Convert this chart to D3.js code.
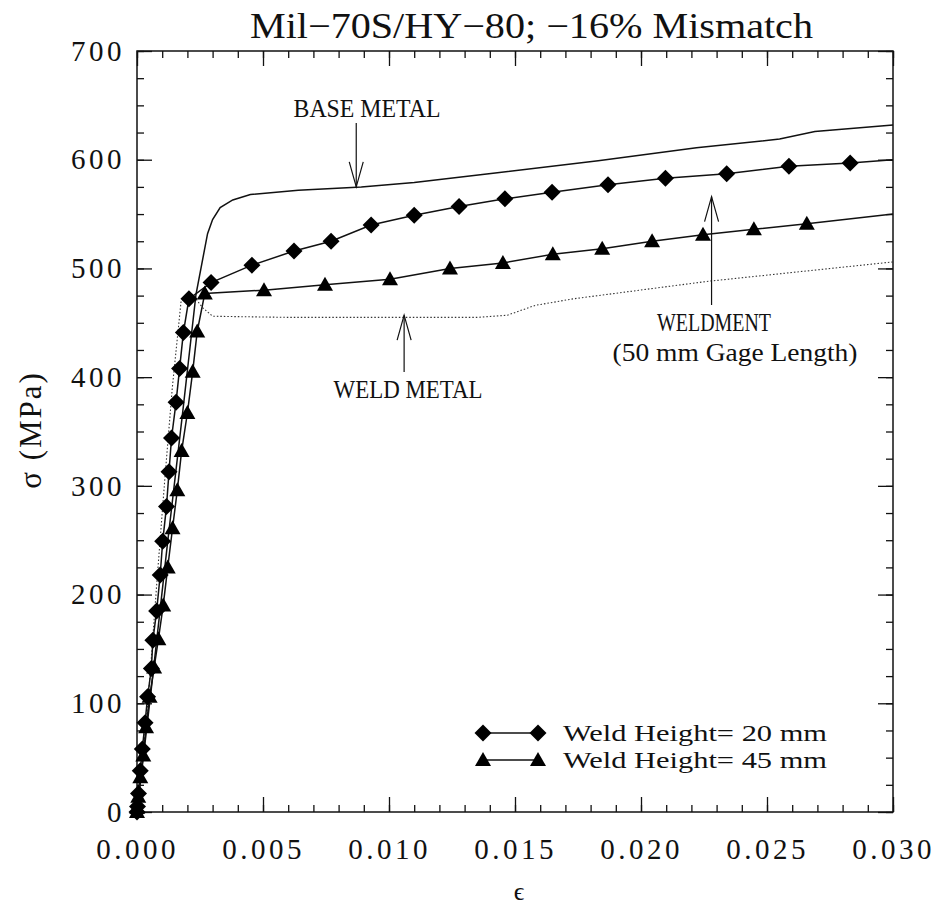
<!DOCTYPE html>
<html>
<head>
<meta charset="utf-8">
<script src="https://cdn.jsdelivr.net/npm/d3@7"></script>
<style>
  body { margin: 0; background: #fff; }
  svg text { font-family: "Liberation Serif", "DejaVu Serif", serif; fill: #111; }
</style>
</head>
<body>
<div id="chart"></div>
<script>
// strain / stress data (MPa)
var baseEps    = [0, 0.0006, 0.0012, 0.0018, 0.00234, 0.0028, 0.0030, 0.0033, 0.0038, 0.0045, 0.0064, 0.0089, 0.011, 0.0143, 0.0183, 0.0222, 0.0255, 0.0269, 0.030];
var baseStress = [0, 120, 245, 365, 476, 532, 545, 556, 563, 568, 572, 575, 579, 588, 599, 611, 619, 626, 632];

var weldEps    = [0, 0.0002, 0.0005, 0.0008, 0.0011, 0.0014, 0.00175, 0.0022, 0.0026, 0.003, 0.006, 0.010, 0.0135, 0.0147, 0.0158, 0.0173, 0.0226, 0.030];
var weldStress = [0, 40, 120, 215, 305, 390, 470, 476, 464, 456, 455, 455, 455, 457, 466, 472, 488, 506];

// weld height = 20 mm (diamonds), last point is the line end only
var h20Eps    = [0, 0.00002, 0.00006, 0.00013, 0.00021, 0.00032, 0.00042, 0.00057, 0.00063, 0.00078, 0.00092, 0.00102, 0.00117, 0.00127, 0.00137, 0.00155, 0.00169, 0.00184, 0.00206,
                 0.00294, 0.00456, 0.00623, 0.0077, 0.00929, 0.011, 0.01278, 0.0146, 0.01647, 0.01869, 0.02097, 0.0234, 0.02587, 0.0283, 0.030];
var h20Stress = [0, 5, 17, 38, 58, 82, 106, 132, 158, 185, 218, 249, 281, 313, 344, 377, 408, 441, 472,
                 487, 503, 516, 525, 540, 549, 557, 564, 570, 577, 583, 587, 594, 597, 600];

// weld height = 45 mm (triangles)
var h45Eps    = [0, 0.00001, 0.00005, 0.00013, 0.00025, 0.00036, 0.0005, 0.00068, 0.00085, 0.00104, 0.00122, 0.00141, 0.0016, 0.00177, 0.002, 0.00221, 0.00239, 0.00269,
                 0.00504, 0.00746, 0.01004, 0.01242, 0.01452, 0.0165, 0.01846, 0.02044, 0.02246, 0.02448, 0.02658, 0.030];
var h45Stress = [0, 4, 14, 32, 52, 78, 106, 133, 159, 190, 225, 261, 296, 332, 367, 405, 442, 477,
                 480, 485, 490, 500, 505, 513, 518, 525, 531, 536, 541, 550];

var epsTicks = [0, 0.005, 0.010, 0.015, 0.020, 0.025, 0.030];
var stressTicks = [0, 100, 200, 300, 400, 500, 600, 700];
var legendLabels = ["Weld Height= 20 mm", "Weld Height= 45 mm"];

var width = 934, height = 909;
var plotL = 137, plotR = 893, plotT = 51, plotB = 812;

var svg = d3.select("#chart").append("svg")
    .attr("width", width)
    .attr("height", height);

var x = d3.scaleLinear().domain([0, 0.030]).range([plotL, plotR]);
var y = d3.scaleLinear().domain([0, 700]).range([plotB, plotT]);

function pts(a, b) { return a.map(function(d, i){ return [d, b[i]]; }); }

var line = d3.line()
    .x(function(d){ return x(d[0]); })
    .y(function(d){ return y(d[1]); });

// frame
svg.append("rect")
    .attr("x", plotL).attr("y", plotT)
    .attr("width", plotR - plotL).attr("height", plotB - plotT)
    .attr("fill", "none").attr("stroke", "#111").attr("stroke-width", 1.5);

var minorX = d3.range(0, 0.0305, 0.001);
var minorY = d3.range(0, 701, 25);

function styleAxis(g) {
    g.select(".domain").remove();
    g.selectAll(".tick line").attr("stroke", "#111").attr("stroke-width", 1.3);
    g.selectAll(".tick text").style("font-size", "29px").style("letter-spacing", "3.5px").attr("fill", "#111");
}

// minor ticks, all four sides
svg.append("g").attr("transform", "translate(0," + plotB + ")")
    .call(d3.axisBottom(x).tickValues(minorX).tickSize(-7).tickFormat("")).call(styleAxis);
svg.append("g").attr("transform", "translate(0," + plotT + ")")
    .call(d3.axisTop(x).tickValues(minorX).tickSize(-7).tickFormat("")).call(styleAxis);
svg.append("g").attr("transform", "translate(" + plotL + ",0)")
    .call(d3.axisLeft(y).tickValues(minorY).tickSize(-7).tickFormat("")).call(styleAxis);
svg.append("g").attr("transform", "translate(" + plotR + ",0)")
    .call(d3.axisRight(y).tickValues(minorY).tickSize(-7).tickFormat("")).call(styleAxis);

// major ticks + labels
svg.append("g").attr("transform", "translate(0," + plotB + ")")
    .call(d3.axisBottom(x).tickValues(epsTicks).tickSize(-15).tickPadding(26).tickFormat(d3.format(".3f")))
    .call(styleAxis);
svg.append("g").attr("transform", "translate(0," + plotT + ")")
    .call(d3.axisTop(x).tickValues(epsTicks).tickSize(-15).tickFormat("")).call(styleAxis);
svg.append("g").attr("transform", "translate(" + plotL + ",0)")
    .call(d3.axisLeft(y).tickValues(stressTicks).tickSize(-15).tickPadding(12).tickFormat(d3.format("d")))
    .call(styleAxis);
svg.append("g").attr("transform", "translate(" + plotR + ",0)")
    .call(d3.axisRight(y).tickValues(stressTicks).tickSize(-15).tickFormat("")).call(styleAxis);

// curves
svg.append("path").datum(pts(weldEps, weldStress))
    .attr("d", line).attr("fill", "none").attr("stroke", "#333")
    .attr("stroke-width", 1.1).attr("stroke-dasharray", "1.5,2");
svg.append("path").datum(pts(baseEps, baseStress))
    .attr("d", line).attr("fill", "none").attr("stroke", "#111").attr("stroke-width", 1.5);
svg.append("path").datum(pts(h45Eps, h45Stress))
    .attr("d", line).attr("fill", "none").attr("stroke", "#111").attr("stroke-width", 1.5);
svg.append("path").datum(pts(h20Eps, h20Stress))
    .attr("d", line).attr("fill", "none").attr("stroke", "#111").attr("stroke-width", 1.5);

var diamond = "M0,-8.5L8.5,0L0,8.5L-8.5,0Z";
var triangle = "M0,-8L8,6L-8,6Z";

svg.append("g").selectAll("path")
    .data(pts(h45Eps, h45Stress).slice(0, -1))
    .enter().append("path")
    .attr("d", triangle)
    .attr("transform", function(d){ return "translate(" + x(d[0]) + "," + y(d[1]) + ")"; })
    .attr("fill", "#000");

svg.append("g").selectAll("path")
    .data(pts(h20Eps, h20Stress).slice(0, -1))
    .enter().append("path")
    .attr("d", diamond)
    .attr("transform", function(d){ return "translate(" + x(d[0]) + "," + y(d[1]) + ")"; })
    .attr("fill", "#000");

// annotations
function arrow(x0, y0, x1, y1) {
    var dir = y1 > y0 ? -1 : 1;
    svg.append("line").attr("x1", x0).attr("y1", y0).attr("x2", x1).attr("y2", y1)
        .attr("stroke", "#111").attr("stroke-width", 1.2);
    svg.append("path")
        .attr("d", "M" + (x1 - 7) + "," + (y1 + dir * 25) + "L" + x1 + "," + y1 + "L" + (x1 + 7) + "," + (y1 + dir * 25))
        .attr("fill", "none").attr("stroke", "#111").attr("stroke-width", 1.2);
}

function note(txt, cx, cy, w) {
    svg.append("text").attr("x", cx - w / 2).attr("y", cy)
        .attr("textLength", w).attr("lengthAdjust", "spacingAndGlyphs")
        .style("font-size", "25px").text(txt);
}

note("BASE METAL", 367, 117, 147);
arrow(x(0.0087), 123, x(0.0087), y(575));

note("WELDMENT", 714, 331, 114);
note("(50 mm Gage Length)", 735, 361, 245);
arrow(x(0.0228), 305, x(0.0228), y(566));

note("WELD METAL", 408, 398, 149);
arrow(x(0.0106), 372, x(0.0106), y(457));

// legend
var legY = [733, 760];
var legShapes = [diamond, triangle];
legendLabels.forEach(function(lbl, i){
    var g = svg.append("g").attr("transform", "translate(0," + legY[i] + ")");
    g.append("line").attr("x1", 483).attr("x2", 538).attr("stroke", "#111").attr("stroke-width", 1.5);
    g.append("path").attr("d", legShapes[i]).attr("transform", "translate(483,0)").attr("fill", "#000");
    g.append("path").attr("d", legShapes[i]).attr("transform", "translate(538,0)").attr("fill", "#000");
    g.append("text").attr("x", 563).attr("y", 8)
        .attr("textLength", 264).attr("lengthAdjust", "spacingAndGlyphs")
        .style("font-size", "24px").text(lbl);
});

// titles
svg.append("text").attr("x", 250).attr("y", 38)
    .attr("textLength", 563).attr("lengthAdjust", "spacingAndGlyphs")
    .style("font-size", "36px").text("Mil\u221270S/HY\u221280; \u221216% Mismatch");

svg.append("text").attr("x", 519).attr("y", 900).attr("text-anchor", "middle")
    .style("font-size", "26px").text("\u03f5");

svg.append("text")
    .attr("transform", "translate(41,430) rotate(-90)")
    .attr("text-anchor", "middle")
    .style("font-size", "31px").style("letter-spacing", "2px").text("\u03c3 (MPa)");
</script>
</body>
</html>
